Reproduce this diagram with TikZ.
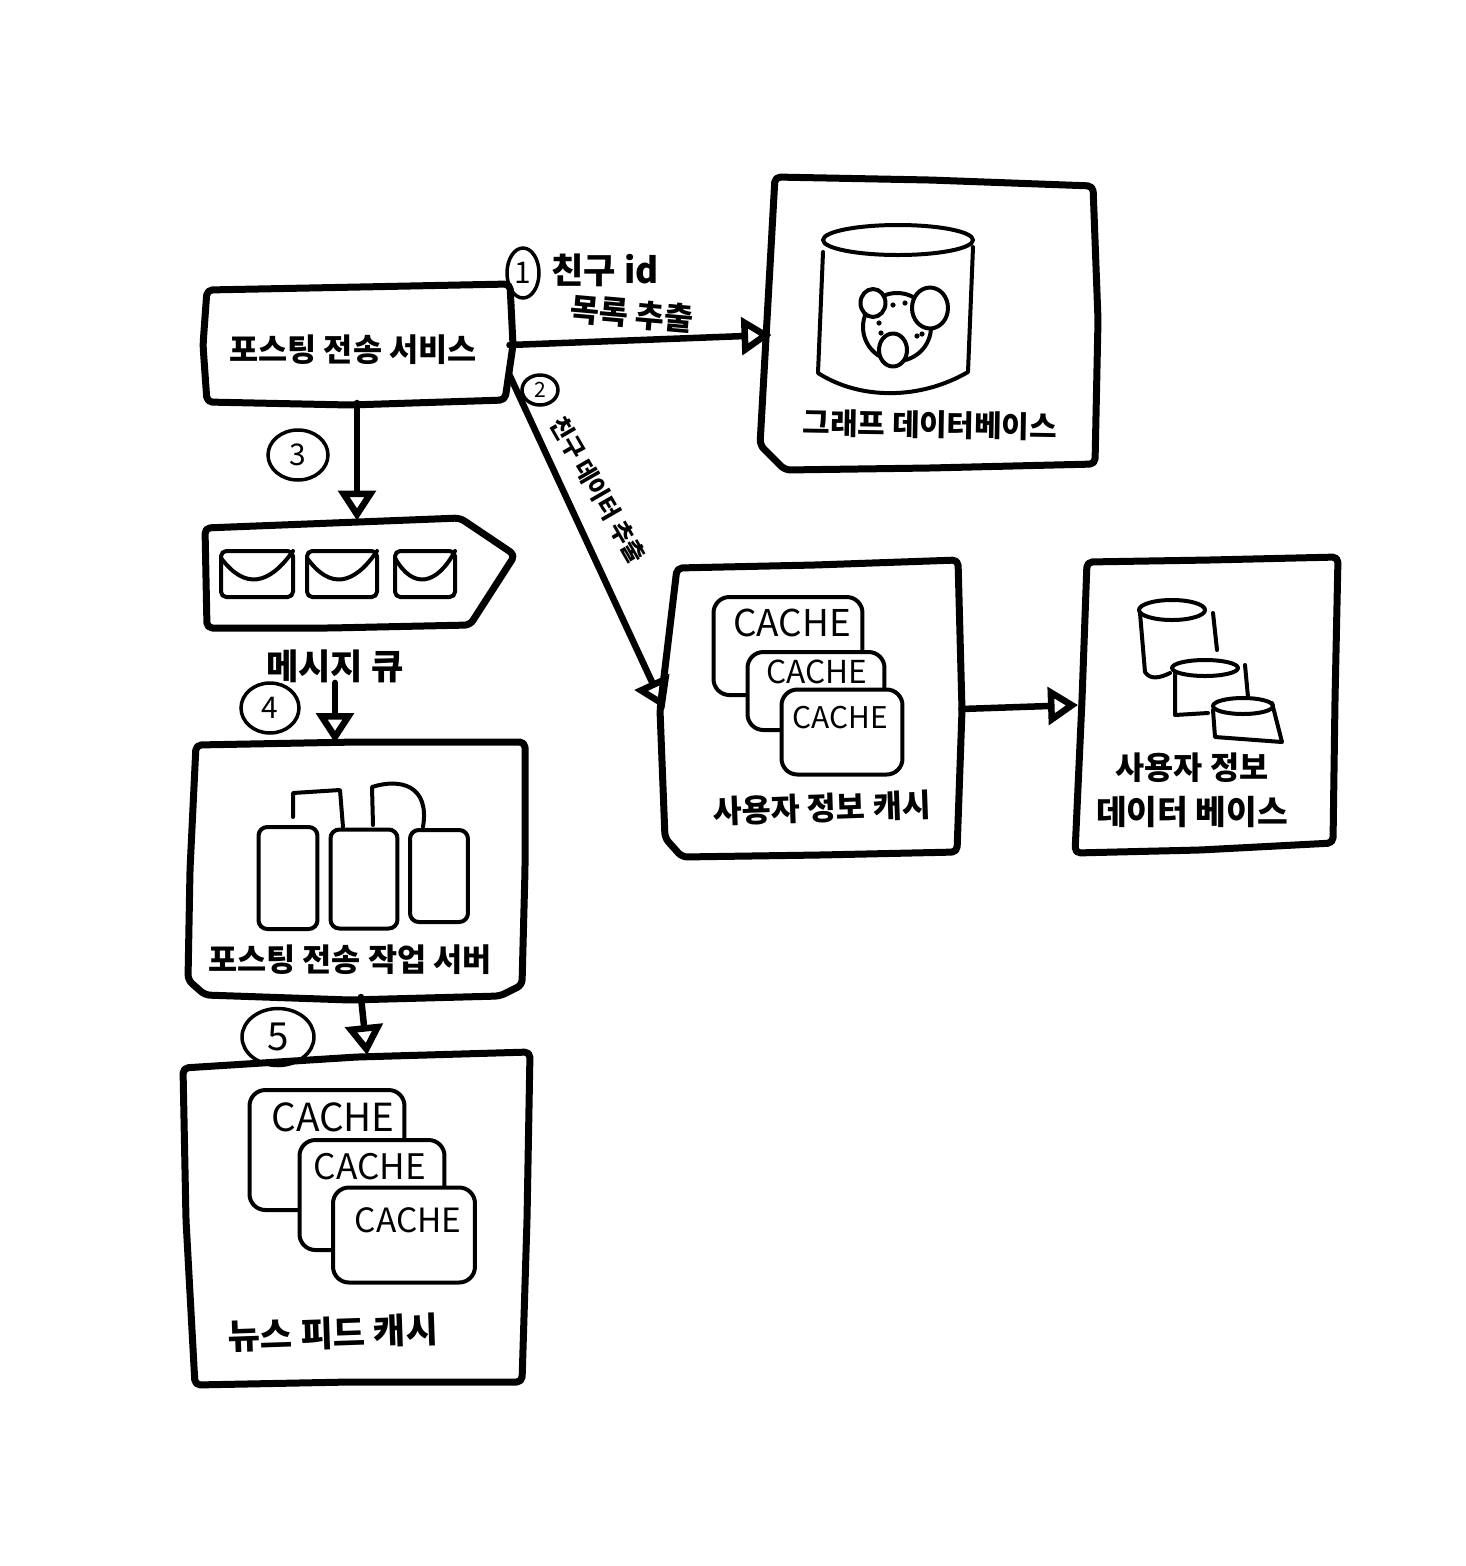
\documentclass[tikz,border=0pt]{standalone}
\usepackage{fontspec}
\setmainfont{Noto Sans CJK KR}
\usetikzlibrary{arrows.meta,shapes.geometric}
\tikzset{
	bigbox/.style={inner sep=0pt,outer sep=0pt},
	thick ink/.style={line width=.14cm,line cap=round,line join=round,rounded corners=3pt},
	thin ink/.style={line width=.08cm,line cap=round,line join=round},
	cachebox/.style={draw,fill=white,line width=.08cm,rounded corners=9pt},
	serverbox/.style={draw,line width=.08cm,rounded corners=5pt},
	hand/.style={inner sep=0pt,font=\bfseries\fontsize{#1}{#1}\selectfont},
	num/.style={draw,ellipse,line width=.07cm,inner sep=0pt,font=\fontsize{17}{17}\selectfont},
	link/.style={line width=.13cm,line cap=round,-{Triangle[open,length=.6cm,width=.74cm,line width=.13cm]}}
}
\begin{document}
\begin{tikzpicture}[x=.02cm,y=-.02cm]
	\useasboundingbox (0,0) rectangle (1465,1566);
	% boxes
	\node[bigbox,minimum width=6.1cm,minimum height=2.32cm] (post) at (357,345) {};
	\draw[thick ink] (207,290) -- (360,287) -- (510,284) -- (513,345) -- (505,400) -- (350,405) -- (207,402) -- (203,345) -- cycle;
	\node[bigbox,minimum width=6.5cm,minimum height=5.8cm] (graph) at (934,323) {};
	\draw[thick ink] (775,177) -- (930,180) -- (1093,186) -- (1098,320) -- (1095,464) -- (930,468) -- (785,470) -- (760,445) -- (767,320) -- cycle;
	\node[bigbox,minimum width=6.2cm,minimum height=2.1cm] (queue) at (360,573) {};
	\draw[thick ink] (205,528) -- (460,518) -- (515,555) -- (470,625) -- (330,628) -- (207,628) -- cycle;
	\node[bigbox,minimum width=6.7cm,minimum height=5.08cm] (worker) at (357,870) {};
	\draw[thick ink] (196,745) -- (357,742) -- (525,742) -- (525,870) -- (522,985) -- (500,996) -- (350,1000) -- (205,995) -- (188,980) -- (190,870) -- cycle;
	\node[bigbox,minimum width=6.8cm,minimum height=6.6cm] (feed) at (357,1220) {};
	\draw[thick ink] (183,1068) -- (357,1057) -- (530,1052) -- (527,1220) -- (522,1382) -- (350,1382) -- (195,1385) -- (186,1220) -- cycle;
	\node[bigbox,minimum width=5.94cm,minimum height=5.84cm] (usercache) at (813,709) {};
	\draw[thick ink] (677,568) -- (815,565) -- (958,560) -- (962,710) -- (957,852) -- (820,855) -- (682,857) -- (665,838) -- (660,710) -- cycle;
	\node[bigbox,minimum width=5.2cm,minimum height=5.92cm] (userdb) at (1208,705) {};
	\draw[thick ink] (1087,562) -- (1210,560) -- (1338,557) -- (1335,700) -- (1333,843) -- (1200,850) -- (1075,853) -- (1082,700) -- cycle;
	% labels
	\node[hand=18] (postlabel) at (353,350) {포스팅 전송 서비스};
	\node[hand=17,rotate=-1] (graphlabel) at (930,425) {그래프 데이터베이스};
	\node[hand=20] (queuelabel) at (335,666) {메시지 큐};
	\node[hand=18] (workerlabel) at (350,960) {포스팅 전송 작업 서버};
	\node[hand=20,rotate=2] (feedlabel) at (333,1333) {뉴스 피드 캐시};
	\node[hand=18,rotate=2] (cachelabel) at (822,808) {사용자 정보 캐시};
	\node[hand=18] (dblabel) at (1192,768) {사용자 정보};
	\node[hand=19] (dblabelb) at (1192,812) {데이터 베이스};
	\node[hand=20] (friendid) at (605,270) {친구 id};
	\node[hand=18,rotate=-5] (friendlist) at (632,314) {목록 추출};
	\node[hand=13.5,rotate=-60] (frienddata) at (598,490) {친구 데이터 추출};
	% numbers
	\node[num,minimum width=.64cm,minimum height=1cm] (one) at (523,273) {1};
	\node[num,minimum width=.72cm,minimum height=.6cm,font=\fontsize{12}{12}\selectfont] (two) at (540,390) {2};
	\node[num,minimum width=1.2cm,minimum height=1cm] (three) at (298,455) {3};
	\node[num,minimum width=1.16cm,minimum height=1cm] (four) at (270,708) {4};
	\node[num,minimum width=1.44cm,minimum height=1.14cm,font=\fontsize{22}{22}\selectfont] (five) at (278,1037) {5};
	% graph database
	\draw[thin ink] (823,252) -- (818,373) .. controls (860,400) and (920,400) .. (968,372) -- (973,247);
	\draw[thin ink] (898,240) ellipse (75 and 15);
	\draw[thin ink] (897,327) circle (34);
	\node[draw,fill=white,ellipse,thin ink,minimum width=.5cm,minimum height=.56cm,inner sep=0pt] (dota) at (873,303) {};
	\node[draw,fill=white,ellipse,thin ink,minimum width=.72cm,minimum height=.82cm,inner sep=0pt] (dotb) at (930,308) {};
	\node[draw,fill=white,ellipse,thin ink,minimum width=.56cm,minimum height=.66cm,inner sep=0pt] (dotc) at (893,350) {};
	\foreach \x/\y in {893/305,905/303,879/323,881/333,917/336,922/334}
		\fill (\x,\y) circle (2.6);
	% messages
	\foreach \x/\w in {257/36,342/35,425/30} {
		\draw[thin ink,rounded corners=3pt] (\x-\w,551) rectangle (\x+\w,597);
		\draw[thin ink] (\x-\w,558) .. controls (\x-12,590) and (\x+12,585) .. (\x+\w,551);
	}
	% servers
	\draw[thin ink] (293,817) -- (293,793) -- (340,790) -- (343,827);
	\draw[thin ink] (373,825) -- (372,787) .. controls (400,778) and (430,785) .. (423,827);
	\node[serverbox,minimum width=1.18cm,minimum height=2.04cm] (servera) at (288,878) {};
	\node[serverbox,minimum width=1.34cm,minimum height=1.98cm] (serverb) at (364,879) {};
	\node[serverbox,minimum width=1.16cm,minimum height=1.84cm] (serverc) at (439,876) {};
	% cache in the middle
	\node[cachebox,minimum width=2.98cm,minimum height=1.96cm] (cachea) at (788,646) {};
	\node[cachebox,minimum width=2.74cm,minimum height=1.56cm] (cacheb) at (816,691) {};
	\node[cachebox,minimum width=2.42cm,minimum height=1.7cm] (cachec) at (842,732) {};
	\node[font=\fontsize{21}{21}\selectfont] (cachetexta) at (792,623) {CACHE};
	\node[font=\fontsize{18}{18}\selectfont] (cachetextb) at (817,672) {CACHE};
	\node[font=\fontsize{17}{17}\selectfont] (cachetextc) at (840,718) {CACHE};
	% cache at the bottom
	\node[cachebox,minimum width=3.1cm,minimum height=2.4cm] (feeda) at (327,1150) {};
	\node[cachebox,minimum width=2.9cm,minimum height=2.2cm] (feedb) at (372,1195) {};
	\node[cachebox,minimum width=2.84cm,minimum height=1.9cm] (feedc) at (404,1235) {};
	\node[font=\fontsize{22}{22}\selectfont] (feedtexta) at (333,1117) {CACHE};
	\node[font=\fontsize{20}{20}\selectfont] (feedtextb) at (370,1167) {CACHE};
	\node[font=\fontsize{19}{19}\selectfont] (feedtextc) at (408,1220) {CACHE};
	% user database
	\draw[thin ink] (1140,613) -- (1145,672) .. controls (1150,680) and (1160,678) .. (1170,673);
	\draw[thin ink] (1172,610) ellipse (33 and 10);
	\draw[thin ink] (1213,613) -- (1217,650);
	\draw[thin ink] (1175,673) -- (1175,715) -- (1208,713);
	\draw[thin ink] (1205,668) ellipse (33 and 8);
	\draw[thin ink] (1245,665) -- (1248,697);
	\draw[thin ink] (1213,710) -- (1215,737) -- (1282,742) -- (1272,703);
	\draw[thin ink] (1243,706) ellipse (30 and 8);
	% arrows
	\draw[link] (post.east) -- ([yshift=-.24cm]graph.west);
	\draw[link] ([yshift=-.6cm]post.east) -- (usercache.west);
	\draw[link] (post.south) -- (post.south |- queue.north);
	\draw[link] (queuelabel.south) -- (queuelabel.south |- worker.north);
	\draw[link] ([xshift=.08cm]worker.south) -- ([xshift=.2cm]feed.north);
	\draw[link] (usercache.east) -- (userdb.west);
\end{tikzpicture}
\end{document}
